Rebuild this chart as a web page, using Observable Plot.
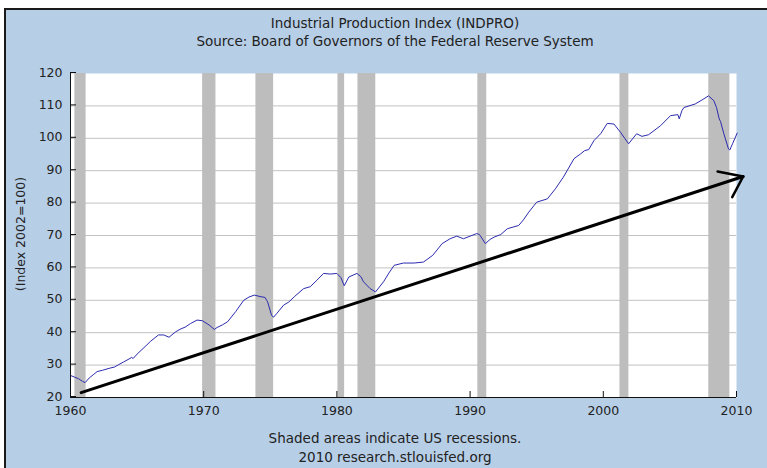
<!DOCTYPE html>
<html>
<head>
<meta charset="utf-8">
<script src="https://cdn.jsdelivr.net/npm/d3@7"></script>
<script src="https://cdn.jsdelivr.net/npm/@observablehq/plot@0.6"></script>
<style>
  html, body { margin: 0; padding: 0; background: #fff; }
  #wrap { position: relative; width: 767px; height: 468px; overflow: hidden; background: #fff;
          font-family: "DejaVu Sans", Verdana, sans-serif; color: #222; }
  #panel { position: absolute; left: 4px; top: 8px; right: 0; bottom: 0; background: #b6cee6;
           border-left: 2px solid #1a1a1a; border-top: 2px solid #1a1a1a; }
  .t { position: absolute; left: 62px; width: 666px; text-align: center; font-size: 13.5px; line-height: 16px; white-space: nowrap; }
  #ylab { position: absolute; left: 20px; top: 234px; font-size: 12.5px; white-space: nowrap;
          transform: translate(-50%, -50%) rotate(-90deg); }
  #chart { position: absolute; left: 0; top: 0; }
</style>
</head>
<body>
<div id="wrap">
  <div id="panel"></div>
  <div class="t" style="top:15px">Industrial Production Index (INDPRO)</div>
  <div class="t" style="top:33px">Source: Board of Governors of the Federal Reserve System</div>
  <div id="ylab">(Index 2002=100)</div>
  <div id="chart"></div>
  <div class="t" style="top:430px">Shaded areas indicate US recessions.</div>
  <div class="t" style="top:449px">2010 research.stlouisfed.org</div>
</div>
<script>
// Industrial production index (2002=100)
const years = [
  1960.0,1960.3,1960.6,1960.9,1961.1,1961.4,1961.7,1962.0,1962.4,1962.9,
  1963.3,1963.6,1964.0,1964.4,1964.6,1964.7,1965.0,1965.6,1966.0,1966.6,
  1967.0,1967.4,1967.9,1968.3,1968.6,1969.0,1969.5,1969.9,1970.4,1970.8,
  1971.0,1971.4,1971.8,1972.4,1973.0,1973.4,1973.8,1974.3,1974.6,1974.8,
  1975.1,1975.25,1975.5,1976.0,1976.4,1976.8,1977.5,1978.0,1978.5,1979.0,
  1979.5,1980.0,1980.3,1980.55,1980.9,1981.5,1981.8,1982.0,1982.5,1982.9,
  1983.5,1983.9,1984.3,1985.0,1985.8,1986.5,1987.2,1987.9,1988.5,1989.0,
  1989.5,1990.0,1990.5,1990.7,1991.15,1991.5,1991.8,1992.3,1992.8,1993.65,
  1994.0,1994.4,1995.0,1995.8,1996.4,1997.0,1997.8,1998.3,1998.6,1998.9,
  1999.3,1999.8,2000.3,2000.8,2001.3,2001.9,2002.5,2002.9,2003.4,2004.3,
  2005.05,2005.6,2005.7,2005.9,2006.05,2006.9,2007.4,2007.9,2008.3,2008.5,
  2008.7,2008.8,2009.05,2009.4,2009.5,2009.7,2010.05
];
const values = [
  26.8,26.3,25.8,25.0,24.6,26.0,27.0,28.0,28.4,29.0,
  29.4,30.1,31.0,31.9,32.4,32.0,33.4,35.7,37.3,39.3,
  39.3,38.6,40.3,41.2,41.7,42.8,43.9,43.7,42.4,41.0,
  41.6,42.4,43.4,46.5,50.0,51.0,51.6,51.1,50.9,49.5,
  45.3,44.8,46.0,48.5,49.5,51.1,53.6,54.2,56.2,58.3,
  58.1,58.3,57.0,54.5,57.2,58.3,57.3,55.7,53.6,52.6,
  55.7,58.4,60.8,61.5,61.5,61.8,63.9,67.5,69.0,69.8,
  69.0,69.8,70.6,70.3,67.5,68.8,69.5,70.3,72.1,73.1,
  74.8,77.2,80.3,81.3,84.4,88.0,93.7,95.2,96.2,96.5,
  99.3,101.4,104.6,104.4,101.8,98.3,101.4,100.6,101.1,103.9,
  107.0,107.3,106.0,108.5,109.5,110.6,111.8,113.1,111.6,109.5,
  106.0,105.2,101.4,96.7,96.4,98.3,101.6
];
// US recessions (start, end)
const recStart = [1960.33, 1969.92, 1973.92, 1980.08, 1981.58, 1990.58, 2001.25, 2007.92];
const recEnd   = [1961.17, 1970.92, 1975.25, 1980.58, 1982.92, 1991.25, 2001.92, 2009.5];
// hand-drawn trend arrow
const arrowX = [1960.8, 2010.5];
const arrowY = [21.5, 88.2];
const headX = [2008.58, 2010.5, 2009.68];
const headY = [89.75, 88.2, 81.85];
// ticks
const yTicks = [20, 30, 40, 50, 60, 70, 80, 90, 100, 110, 120];
const xTicks = [1960, 1970, 1980, 1990, 2000, 2010];
const gridVals = [30, 40, 50, 60, 70, 80, 90, 100, 110];

const series = years.map((y, i) => ({x: y, v: values[i]}));
const recessions = recStart.map((s, i) => ({s, e: recEnd[i]}));
const arrow = arrowX.map((x, i) => ({x, y: arrowY[i]}));
const head = headX.map((x, i) => ({x, y: headY[i]}));

const ink = "#222";
const plot = Plot.plot({
  width: 767,
  height: 468,
  marginLeft: 70,
  marginRight: 31,
  marginTop: 73,
  marginBottom: 71,
  style: {background: "transparent", fontFamily: "DejaVu Sans, Verdana, sans-serif", fontSize: "12.5px", color: ink},
  x: {domain: [1960, 2010], axis: null},
  y: {domain: [20, 120], axis: null},
  marks: [
    Plot.frame({fill: "white", stroke: null}),
    Plot.ruleY(gridVals, {stroke: "#c2c2c2", strokeWidth: 1}),
    Plot.rect(recessions, {x1: "s", x2: "e", y1: 20, y2: 120, fill: "#bdbdbd"}),
    Plot.line(series, {x: "x", y: "v", stroke: "#2b2bb0", strokeWidth: 1}),
    Plot.ruleX([1960], {stroke: "#111", strokeWidth: 1}),
    Plot.ruleY([20], {stroke: "#111", strokeWidth: 1}),
    Plot.line(arrow, {x: "x", y: "y", stroke: "#000", strokeWidth: 3, strokeLinecap: "round"}),
    Plot.line(head, {x: "x", y: "y", stroke: "#000", strokeWidth: 2.5, strokeLinecap: "round", strokeLinejoin: "round"}),
    Plot.axisY(yTicks, {anchor: "left", tickSize: -6, tickPadding: 14, dy: -1, stroke: "#111", fill: ink, tickFormat: d => d, label: null}),
    Plot.axisX(xTicks, {anchor: "bottom", tickSize: -6, tickPadding: 15, stroke: "#111", fill: ink, tickFormat: d => String(d), label: null})
  ]
});
document.getElementById("chart").appendChild(plot);
</script>
</body>
</html>
